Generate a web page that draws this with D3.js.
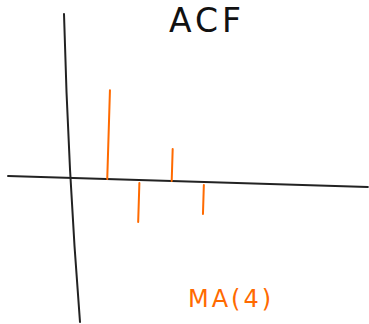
<!DOCTYPE html>
<html>
<head>
<meta charset="utf-8">
<script src="https://cdn.jsdelivr.net/npm/d3@7"></script>
<style>
    body { margin: 0; background: #fff; }
    svg { display: block; }
</style>
</head>
<body>
<div id="chart"></div>
<script>
// ACF values for an MA(4)-style sketch
const lags = [1, 2, 3, 4];
const acfValues = [0.89, -0.42, 0.32, -0.32];
const chartTitle = "ACF";
const modelLabel = "MA(4)";

const WIDTH = 369;
const HEIGHT = 324;
const ORIGIN = { X: 71, Y: 178 };
const ORANGE = "#ff6a00";

const svg = d3.select("#chart").append("svg")
    .attr("width", WIDTH)
    .attr("height", HEIGHT);

// Title
svg.append("text")
    .attr("x", 207)
    .attr("y", 32)
    .attr("text-anchor", "middle")
    .style("font-family", "'DejaVu Sans', sans-serif")
    .style("font-size", "33px")
    .style("letter-spacing", "4px")
    .attr("fill", "#111")
    .text(chartTitle);

// Plot group, slightly tilted like the hand-drawn axis
const g = svg.append("g")
    .attr("transform", `translate(${ORIGIN.X}, ${ORIGIN.Y}) rotate(1.75)`);

const x = d3.scaleLinear().domain([0, 4]).range([4, 133]);
const y = d3.scaleLinear().domain([-1, 1]).range([100, -100]);

// Horizontal (zero) axis
g.append("line")
    .attr("x1", 8 - ORIGIN.X)
    .attr("x2", 368 - ORIGIN.X)
    .attr("y1", y(0))
    .attr("y2", y(0))
    .attr("stroke", "#222")
    .attr("stroke-width", 2)
    .attr("stroke-linecap", "round");

// Spikes
g.selectAll(".spike")
    .data(lags.map((d, i) => ({ lag: d, value: acfValues[i] })))
    .enter().append("line")
    .attr("class", "spike")
    .attr("x1", d => x(d.lag))
    .attr("x2", d => x(d.lag))
    .attr("y1", d => d.value < 0 ? y(0) + 3 : y(0))
    .attr("y2", d => y(d.value))
    .attr("stroke", ORANGE)
    .attr("stroke-width", 2)
    .attr("stroke-linecap", "round");

// Vertical axis, leaning the other way
svg.append("path")
    .attr("d", "M64,14 Q68,170 80,322")
    .attr("fill", "none")
    .attr("stroke", "#222")
    .attr("stroke-width", 2)
    .attr("stroke-linecap", "round");

// Model label
svg.append("text")
    .attr("x", 231)
    .attr("y", 307)
    .attr("text-anchor", "middle")
    .style("font-family", "'DejaVu Sans', sans-serif")
    .style("font-size", "24px")
    .style("letter-spacing", "3px")
    .attr("fill", ORANGE)
    .text(modelLabel);
</script>
</body>
</html>
